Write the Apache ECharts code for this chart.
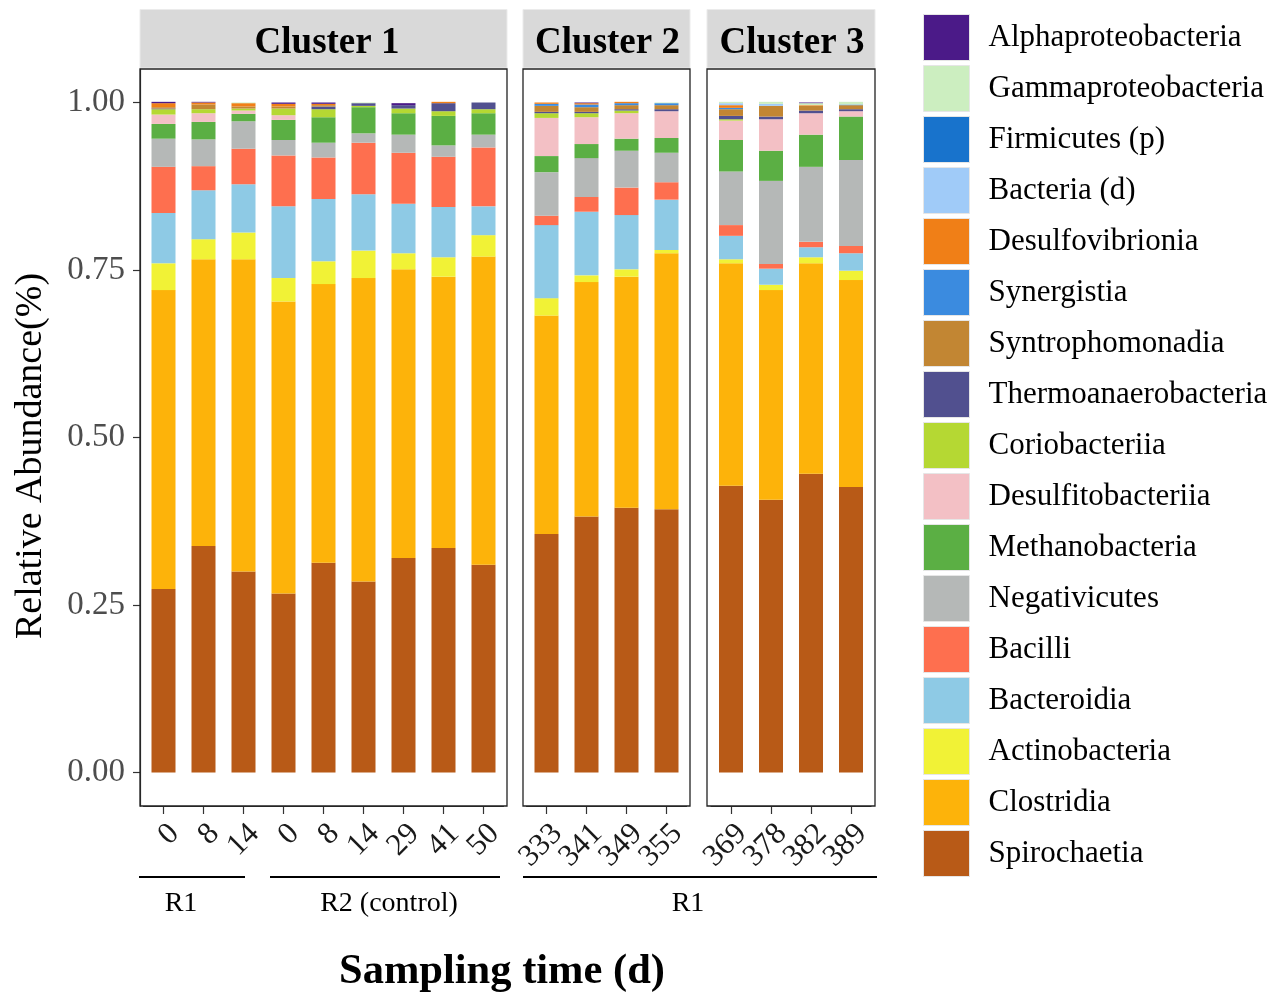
<!DOCTYPE html>
<html>
<head>
<meta charset="utf-8">
<script src="https://cdn.jsdelivr.net/npm/echarts@6/dist/echarts.min.js"></script>
<style>html,body{margin:0;padding:0;background:#fff}#c{width:1275px;height:996px}</style>
</head>
<body>
<div id="c"></div>
<script>
// Sample labels (x ticks), split by panel
const panel1Labels = ["0","8","14","0","8","14","29","41","50"];
const panel2Labels = ["333","341","349","355"];
const panel3Labels = ["369","378","382","389"];
const clusterNames = ["Cluster 1","Cluster 2","Cluster 3"];
const yTicks = [0, 0.25, 0.5, 0.75, 1.0];

// Relative abundance per class, 17 samples in order (panel1 9, panel2 4, panel3 4)
const spirochaetia        = [0.274,0.338,0.300,0.267,0.313,0.285,0.320,0.335,0.310, 0.356,0.382,0.395,0.393, 0.428,0.407,0.446,0.426];
const clostridia          = [0.446,0.428,0.466,0.436,0.416,0.453,0.431,0.405,0.460, 0.326,0.350,0.345,0.382, 0.332,0.313,0.314,0.309];
const actinobacteria      = [0.040,0.030,0.040,0.035,0.034,0.041,0.024,0.029,0.032, 0.026,0.010,0.011,0.005, 0.006,0.008,0.009,0.014];
const bacteroidia         = [0.075,0.073,0.072,0.107,0.093,0.084,0.074,0.075,0.043, 0.109,0.095,0.081,0.075, 0.035,0.024,0.015,0.026];
const bacilli             = [0.069,0.036,0.053,0.076,0.062,0.077,0.076,0.075,0.088, 0.014,0.022,0.041,0.026, 0.016,0.007,0.008,0.011];
const negativicutes       = [0.042,0.040,0.041,0.023,0.022,0.014,0.027,0.017,0.019, 0.065,0.058,0.055,0.044, 0.080,0.124,0.112,0.128];
const methanobacteria     = [0.022,0.026,0.011,0.030,0.038,0.039,0.032,0.044,0.032, 0.024,0.021,0.018,0.022, 0.047,0.045,0.048,0.065];
const desulfitobacteriia  = [0.014,0.013,0.005,0.007,0.000,0.000,0.000,0.000,0.000, 0.057,0.040,0.038,0.040, 0.029,0.047,0.032,0.008];
const coriobacteriia      = [0.008,0.006,0.003,0.010,0.012,0.002,0.007,0.007,0.006, 0.007,0.006,0.004,0.000, 0.002,0.000,0.000,0.000];
const thermoanaerobacteria= [0.001,0.000,0.000,0.000,0.004,0.004,0.005,0.012,0.010, 0.002,0.002,0.002,0.003, 0.005,0.004,0.004,0.003];
const syntrophomonadia    = [0.002,0.007,0.003,0.003,0.002,0.000,0.000,0.000,0.000, 0.009,0.007,0.006,0.006, 0.010,0.016,0.007,0.006];
const synergistia         = [0.000,0.000,0.000,0.000,0.000,0.000,0.000,0.000,0.000, 0.003,0.004,0.003,0.003, 0.002,0.000,0.000,0.001];
const desulfovibrionia    = [0.006,0.003,0.005,0.004,0.002,0.000,0.000,0.002,0.000, 0.002,0.002,0.002,0.000, 0.004,0.000,0.001,0.000];
const bacteriaD           = [0.000,0.000,0.000,0.000,0.000,0.000,0.000,0.000,0.000, 0.000,0.000,0.000,0.000, 0.003,0.003,0.000,0.000];
const firmicutesP         = [0.000,0.000,0.000,0.000,0.000,0.000,0.000,0.000,0.000, 0.000,0.000,0.000,0.000, 0.000,0.000,0.000,0.000];
const gammaproteobacteria = [0.000,0.000,0.001,0.000,0.000,0.001,0.000,0.000,0.000, 0.000,0.000,0.000,0.001, 0.002,0.003,0.003,0.004];
const alphaproteobacteria = [0.002,0.001,0.000,0.002,0.002,0.000,0.003,0.000,0.000, 0.000,0.001,0.000,0.000, 0.000,0.000,0.001,0.000];

// stacking order bottom -> top
const classNames = ["Spirochaetia","Clostridia","Actinobacteria","Bacteroidia","Bacilli","Negativicutes","Methanobacteria","Desulfitobacteriia","Coriobacteriia","Thermoanaerobacteria","Syntrophomonadia","Synergistia","Desulfovibrionia","Bacteria (d)","Firmicutes (p)","Gammaproteobacteria","Alphaproteobacteria"];
const classValues = [spirochaetia,clostridia,actinobacteria,bacteroidia,bacilli,negativicutes,methanobacteria,desulfitobacteriia,coriobacteriia,thermoanaerobacteria,syntrophomonadia,synergistia,desulfovibrionia,bacteriaD,firmicutesP,gammaproteobacteria,alphaproteobacteria];
const classColors = ["#B85A17","#FDB30A","#F1F236","#8ECAE5","#FE6F4F","#B5B8B7","#5BAF44","#F3C0C5","#B5D833","#51508F","#C28633","#3B8BDF","#F07F17","#A0CBF8","#1873CC","#CCEEC0","#4B1A88"];

const FONT = "'Liberation Serif','Times New Roman',serif";
const panelSlices = [[0,9],[9,13],[13,17]];
const panelLabels = [panel1Labels, panel2Labels, panel3Labels];
// panel geometry (pixels)
const gridsPx = [{left:143.5,width:360},{left:526.5,width:160},{left:711,width:160}];
const bordersPx = [[140,507],[523,690],[707,875]];
const stripTextX = [327, 607.5, 792];
const TOP = 69, BOTTOM_Y = 806;

const grids = gridsPx.map(g => ({left:g.left, width:g.width, top:TOP, bottom:996-BOTTOM_Y, show:false}));
const xAxes = panelLabels.map((labs,i) => ({
  type:'category', gridIndex:i, data:labs,
  axisLine:{show:true, onZero:false, lineStyle:{color:'#333', width:1.2}},
  axisTick:{show:true, alignWithLabel:true, length:8, lineStyle:{color:'#333', width:1.2}},
  axisLabel:{rotate:45, margin:12, verticalAlign:'top', fontFamily:FONT, fontSize:31, color:'#1a1a1a', interval:0}
}));
const yAxes = [0,1,2].map(i => ({
  type:'value', gridIndex:i, min:-0.05, max:1.05, show: i===0,
  offset: i===0 ? 3.5 : 0,
  splitLine:{show:false},
  axisLine:{show:true, lineStyle:{color:'#333', width:1.2}},
  axisTick:{show:true, length:7, customValues:yTicks, lineStyle:{color:'#333', width:1.2}},
  axisLabel:{customValues:yTicks, margin:15, fontFamily:FONT, fontSize:33, color:'#4d4d4d', formatter:v=>v.toFixed(2)}
}));

const series = [];
classNames.forEach((name,ci) => {
  panelSlices.forEach((s,pi) => {
    series.push({
      type:'bar', name:name, xAxisIndex:pi, yAxisIndex:pi, stack:'p'+pi,
      barWidth:24, data: classValues[ci].slice(s[0], s[1]),
      itemStyle:{color:classColors[ci]}, emphasis:{disabled:true}
    });
  });
});

const graphics = [];
bordersPx.forEach((b,i) => {
  graphics.push({type:'rect', z:100, shape:{x:b[0], y:TOP, width:b[1]-b[0], height:BOTTOM_Y-TOP}, style:{fill:'none', stroke:'#222', lineWidth:1.3}});
  graphics.push({type:'rect', z:99, shape:{x:b[0], y:9.5, width:b[1]-b[0], height:TOP-9.5-1}, style:{fill:'#d9d9d9', stroke:'#ebebeb', lineWidth:1}});
  graphics.push({type:'text', z:101, x:stripTextX[i], y:43, style:{text:clusterNames[i], fontFamily:FONT, fontWeight:'bold', fontSize:37, fill:'#000', textAlign:'center', textVerticalAlign:'middle'}});
});
const groupLines = [[139,245,'R1',181],[270,500,'R2 (control)',389],[523,877,'R1',688]];
groupLines.forEach(g => {
  graphics.push({type:'line', shape:{x1:g[0], y1:877, x2:g[1], y2:877}, style:{stroke:'#000', lineWidth:2}});
  graphics.push({type:'text', x:g[3], y:904, style:{text:g[2], fontFamily:FONT, fontSize:28, fill:'#000', textAlign:'center', textVerticalAlign:'middle'}});
});
graphics.push({type:'text', x:502, y:972, style:{text:'Sampling time (d)', fontFamily:FONT, fontWeight:'bold', fontSize:42.5, fill:'#000', textAlign:'center', textVerticalAlign:'middle'}});
graphics.push({type:'text', x:31, y:456, rotation:Math.PI/2, style:{text:'Relative Abundance(%)', fontFamily:FONT, fontSize:38, fill:'#000', textAlign:'center', textVerticalAlign:'middle'}});

const chart = echarts.init(document.getElementById('c'), null, {renderer:'canvas'});
chart.setOption({
  animation:false,
  backgroundColor:'#fff',
  grid:grids, xAxis:xAxes, yAxis:yAxes, series:series,
  legend:{
    orient:'vertical', left:923, top:14, padding:0, itemWidth:46, itemHeight:46, itemGap:4,
    icon:'rect', data: classNames.slice().reverse(),
    itemStyle:{borderColor:'#e6e6e6', borderWidth:1},
    textStyle:{fontFamily:FONT, fontSize:31, lineHeight:31, color:'#000', padding:[8,0,0,14]},
    selectedMode:false
  },
  graphic:graphics
});
</script>
</body>
</html>
